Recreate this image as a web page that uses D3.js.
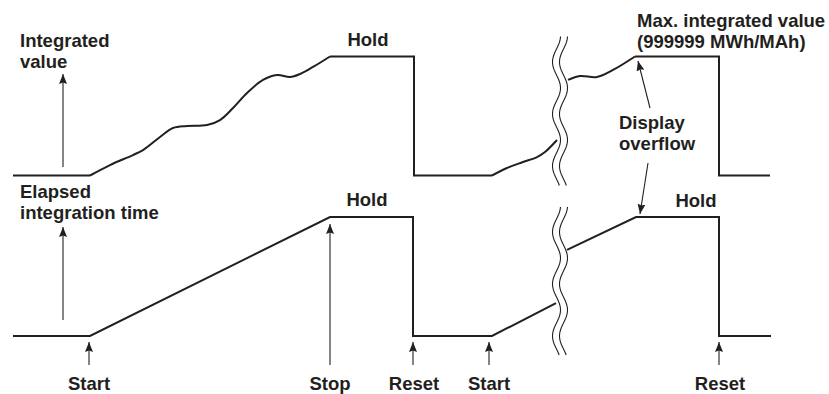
<!DOCTYPE html>
<html>
<head>
<meta charset="utf-8">
<script src="https://cdn.jsdelivr.net/npm/d3@7"></script>
<style>
  html, body { margin: 0; padding: 0; background: #fff; }
  svg { display: block; }
  .lbl { font-family: "Liberation Sans", Arial, Helvetica, sans-serif; font-weight: bold; font-size: 18.5px; fill: #231f20; }
  .trace { fill: none; stroke: #231f20; stroke-width: 2; stroke-linejoin: miter; }
  .arrow { stroke: #231f20; stroke-width: 1.1; }
  .brk { fill: none; stroke: #231f20; stroke-width: 1.1; }
</style>
</head>
<body>
<svg id="chart" width="829" height="394"></svg>
<script>
// time axis in arbitrary units, value in % of the maximum
// integrated value (top trace)
const topIdle1   = [[0, 0], [77, 0]];
const topRun1    = [[77, 0], [97, 8.8], [120, 17.2], [130, 21.4], [147, 32.4], [160, 39.9], [174, 41.6],
                    [194, 42.4], [207, 46.6], [220, 56.7], [234, 69.3], [250, 80.3], [264, 84.5],
                    [277, 82.8], [287, 85.3], [300, 91.2], [317, 100]];
const topHold1   = [[317, 100], [401, 100], [401, 0], [479, 0]];
const topRun2a   = [[479, 0], [494, 6.3], [510, 11.3], [524, 15.5], [532, 19.7], [544, 29.8]];
const topRun2b   = [[555, 80.3], [567, 83.6], [584, 82.8], [600, 88.7], [622, 100]];
const topHold2   = [[622, 100], [706, 100], [706, 0], [757, 0]];

// elapsed integration time (bottom trace)
const botPart1   = [[0, 0], [77, 0], [317, 100], [400, 100], [400, 0], [479, 0], [543, 27.7]];
const botPart2   = [[554, 72.3], [623, 100], [706, 100], [706, 0], [758, 0]];

// events under the time axis
const events = [
  {label: "Start", t: 76},
  {label: "Stop",  t: 317, tall: true},
  {label: "Reset", t: 400},
  {label: "Start", t: 476},
  {label: "Reset", t: 706}
];
const breakAt = 543;

const svg = d3.select("#chart");

const x = d3.scaleLinear().domain([0, 757]).range([13, 770]);
const yTop = d3.scaleLinear().domain([0, 100]).range([175.5, 56.5]);
const yBot = d3.scaleLinear().domain([0, 100]).range([336, 217]);

// arrow head
svg.append("defs").append("marker")
  .attr("id", "head")
  .attr("viewBox", "0 0 10 8")
  .attr("refX", 10).attr("refY", 4)
  .attr("markerWidth", 10).attr("markerHeight", 8)
  .attr("markerUnits", "userSpaceOnUse")
  .attr("orient", "auto")
  .append("path")
  .attr("d", "M0,0 L10,4 L0,8 L1.5,4 Z")
  .attr("fill", "#231f20");

function trace(data, yScale, curve) {
  const line = d3.line().x(d => x(d[0])).y(d => yScale(d[1])).curve(curve);
  svg.append("path").attr("class", "trace").attr("d", line(data));
}

trace(topIdle1, yTop, d3.curveLinear);
trace(topRun1, yTop, d3.curveCatmullRom.alpha(0.5));
trace(topHold1, yTop, d3.curveLinear);
trace(topRun2a, yTop, d3.curveCatmullRom.alpha(0.5));
trace(topRun2b, yTop, d3.curveCatmullRom.alpha(0.5));
trace(topHold2, yTop, d3.curveLinear);
trace(botPart1, yBot, d3.curveLinear);
trace(botPart2, yBot, d3.curveLinear);

// wavy break marks
function wave(cx, y0, y1, yLeft) {
  const pts = d3.range(y0, y1 + 0.5, 1).map(y => [cx - 4 * Math.cos(2 * Math.PI * (y - yLeft) / 52), y]);
  svg.append("path").attr("class", "brk").attr("d", d3.line()(pts));
}
[[yTop(100) - 20, yTop(0) + 10, 62], [yBot(100) - 10, yBot(0) + 19, 232]].forEach(([a, b, l]) => {
  wave(x(breakAt) + 0.5, a, b, l);
  wave(x(breakAt) + 7.5, a, b, l);
});

function arrow(x1, y1, x2, y2) {
  svg.append("line").attr("class", "arrow")
    .attr("x1", x1).attr("y1", y1).attr("x2", x2).attr("y2", y2)
    .attr("marker-end", "url(#head)");
}

// axis arrows
arrow(63, 167, 63, 74);
arrow(63, 320, 63, 227);

// event arrows + labels
events.forEach(e => {
  const ex = x(e.t);
  arrow(ex, 365, ex, e.tall ? 224 : 342);
  svg.append("text").attr("class", "lbl").attr("text-anchor", "middle")
    .attr("x", ex + (e.label === "Reset" ? 1 : 0)).attr("y", 390).text(e.label);
});

// display overflow arrows
arrow(650, 108, 638, 61);
arrow(648, 163, 640, 214);

function text(tx, ty, s, anchor) {
  svg.append("text").attr("class", "lbl").attr("x", tx).attr("y", ty)
    .attr("text-anchor", anchor || "start").text(s);
}
text(20, 47, "Integrated");
text(20, 68, "value");
text(20, 198, "Elapsed");
text(20, 219, "integration time");
text(368, 46, "Hold", "middle");
text(367, 206, "Hold", "middle");
text(696, 207, "Hold", "middle");
text(637, 27, "Max. integrated value");
text(637, 48, "(999999 MWh/MAh)");
text(619, 129, "Display");
text(619, 150, "overflow");
</script>
</body>
</html>
